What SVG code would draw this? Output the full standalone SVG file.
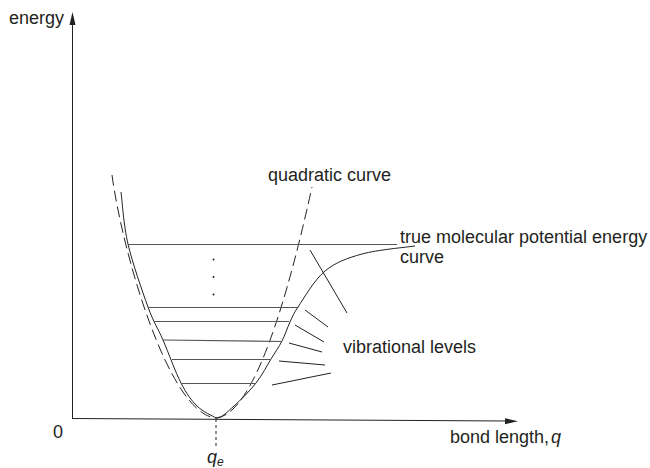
<svg xmlns="http://www.w3.org/2000/svg" width="650" height="468" viewBox="0 0 650 468">
<defs>
<style>
.ln{fill:none;stroke:#222;stroke-width:1}
.lv{fill:none;stroke:#555;stroke-width:1.1}
.ds{fill:none;stroke:#222;stroke-width:1;stroke-dasharray:11 5}
.t{font-family:"Liberation Sans",Arial,sans-serif;font-size:18px;fill:#231f20}
.ti{font-family:"Liberation Sans",Arial,sans-serif;font-style:italic;fill:#231f20}
</style>
</defs>
<rect width="650" height="468" fill="#fff"/>
<g id="axes">
<line class="ln" x1="72.5" y1="418" x2="72.5" y2="22"/>
<polygon points="72.5,12 69.5,25 75.5,25" fill="#222"/>
<line class="ln" x1="72" y1="418.5" x2="508" y2="421"/>
<polygon points="518,421.2 505,418.2 505,424.2" fill="#222"/>
<line x1="216" y1="419" x2="216" y2="447" stroke="#222" stroke-width="1" stroke-dasharray="3 3"/>
</g>
<g id="quadratic-curve">
<path class="ds" d="M112,175 C122,250 168,414 216,418"/>
<path class="ds" d="M216,418 Q262,414 312,187"/>
</g>
<g id="true-curve">
<path class="ln" d="M121,192 C122.2,200.7 123.5,224.8 128,244 C132.5,263.2 142.2,291 148,307 C153.8,323 157.5,327.3 163,340 C168.5,352.7 175.3,372 181,383 C186.7,394 191.2,400.2 197,406 C202.8,411.8 212.8,416 216,418 C222.2,418 227.3,411.8 234,406 C240.7,400.2 249.8,390.8 256,383 C262.2,375.2 266.7,366 271,359 C275.3,352 278.8,347.2 282,341 C285.2,334.8 287.3,327.7 290,322 C292.7,316.3 293.5,313.5 298,307 C303.8,298.5 314.3,279.8 325,271 C335.7,262.2 347,258.2 362,254 C377,249.8 406.2,247.3 415,246"/>
</g>
<g id="levels">
<line class="lv" x1="128" y1="244.5" x2="397" y2="244.5"/>
<line class="lv" x1="148" y1="307.5" x2="297" y2="307.5"/>
<line class="lv" x1="154" y1="321.5" x2="289" y2="321.5"/>
<line class="lv" x1="163" y1="340" x2="282" y2="341.5"/>
<line class="lv" x1="172" y1="359.5" x2="271" y2="359.5"/>
<line class="lv" x1="181" y1="383.5" x2="256" y2="383.5"/>
<circle cx="213.5" cy="259.5" r="1" fill="#222"/>
<circle cx="213.5" cy="277" r="1" fill="#222"/>
<circle cx="213.5" cy="294.5" r="1" fill="#222"/>
</g>
<g id="connectors">
<line class="ln" x1="310" y1="250" x2="347" y2="313"/>
<line class="ln" x1="305" y1="310" x2="328" y2="327"/>
<line class="ln" x1="295" y1="325" x2="324" y2="342"/>
<line class="ln" x1="289" y1="343" x2="322" y2="352"/>
<line class="ln" x1="279" y1="361" x2="325" y2="365"/>
<line class="ln" x1="272" y1="385" x2="331" y2="373"/>
</g>
<g id="labels">
<text class="t" x="9" y="24">energy</text>
<text class="t" x="268" y="181">quadratic curve</text>
<text class="t" x="400" y="243">true molecular potential energy</text>
<text class="t" x="400" y="263">curve</text>
<text class="t" x="343" y="353">vibrational levels</text>
<text class="t" x="450" y="443">bond length,<tspan class="ti" dx="2">q</tspan></text>
<text class="t" x="53" y="438">0</text>
<text class="ti" x="207" y="463" font-size="18">q<tspan font-size="12" dy="3">e</tspan></text>
</g>
</svg>
